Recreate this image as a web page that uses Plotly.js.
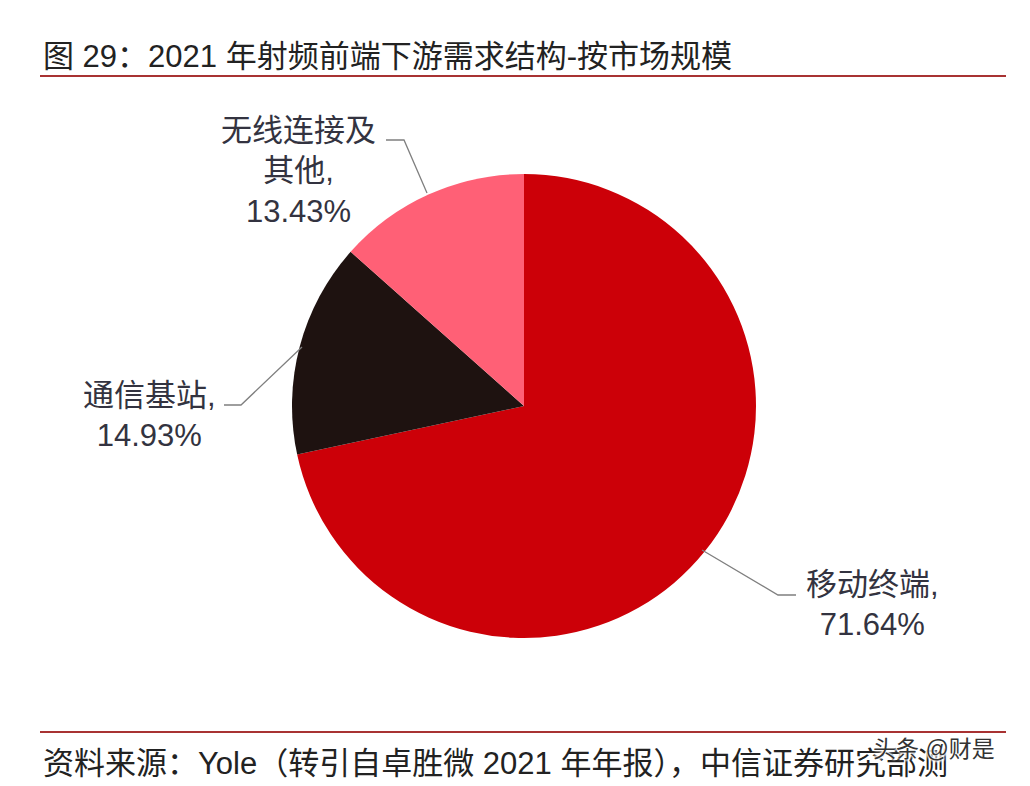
<!DOCTYPE html>
<html><head><meta charset="utf-8">
<script src="https://cdn.plot.ly/plotly-3.0.1.min.js"></script>
<style>html,body{margin:0;padding:0;background:#fff}</style></head>
<body><div id="c" style="width:1030px;height:786px"></div>
<script>
const categories = ["移动终端","通信基站","无线连接及其他"];
const values = [71.64,14.93,13.43];
const colors = ["#cc0008","#1e1210","#ff6076"];
const titleText = "图 29：2021 年射频前端下游需求结构-按市场规模";
const sourceText = "资料来源：Yole（转引自卓胜微 2021 年年报），中信证券研究部测";
const W=1030,H=786;
const FF='"Liberation Sans","Noto Sans CJK SC",sans-serif';
const px=x=>x/W, py=y=>1-y/H;
const ann=(x,y,t,size,color,anchor,extra)=>Object.assign({xref:'paper',yref:'paper',x:px(x),y:py(y),text:t,showarrow:false,
  xanchor:anchor||'center',yanchor:'middle',align:'center',font:Object.assign({family:FF,size:size,color:color},extra||{})});
const rule=(x0,x1,y,c,w)=>({type:'line',xref:'paper',yref:'paper',x0:px(x0),x1:px(x1),y0:py(y),y1:py(y),line:{color:c,width:w}});
const leader=(pts)=>({type:'path',xref:'paper',yref:'paper',
  path:pts.map((p,i)=>(i?'L':'M')+px(p[0])+','+py(p[1])).join(' '),line:{color:'#7f7f7f',width:1.3}});
Plotly.newPlot('c',[{
  type:'pie',labels:categories,values:values,sort:false,direction:'clockwise',rotation:0,
  marker:{colors:colors,line:{width:0}},textinfo:'none',hoverinfo:'label+percent',
  automargin:false,
  domain:{x:[px(292),px(756)],y:[py(638),py(174)]}
}],{
  width:W,height:H,margin:{l:0,r:0,t:0,b:0},paper_bgcolor:'#fff',showlegend:false,
  font:{family:FF},
  shapes:[
    rule(40,1006,76,'#a83232',2),
    rule(40,1006,732,'#a83232',2),
    leader([[702,550],[778,595],[796,595]]),
    leader([[302,347],[241,405],[224,405]]),
    leader([[427,193],[404,140],[386,140]])
  ],
  annotations:[
    ann(41,57,titleText,31,'#222222','left'),
    ann(41,763,sourceText,31,'#222222','left'),
    ann(298,171,'无线连接及<br>其他,<br>'+values[2].toFixed(2)+'%',31,'#333340'),
    ann(149,415,'通信基站,<br>'+values[1].toFixed(2)+'%',31,'#333340'),
    ann(872,604,'移动终端,<br>'+values[0].toFixed(2)+'%',31,'#333340'),
    ann(871,749,'头条 @财是',23,'#333333','left',{shadow:'0 0 3px #fff, 0 0 3px #fff, 1px 1px 2px #fff, -1px -1px 2px #fff'})
  ]
},{staticPlot:true});
</script></body></html>
